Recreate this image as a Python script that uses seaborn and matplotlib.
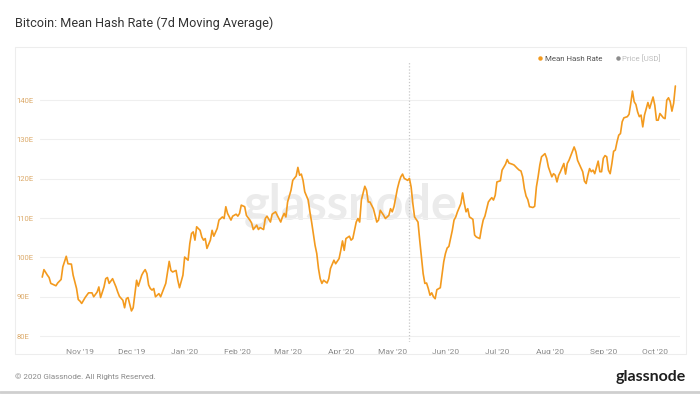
import numpy as np
import pandas as pd
import matplotlib
matplotlib.use("Agg")
import matplotlib.pyplot as plt
import seaborn as sns
import matplotlib.dates as mdates
from matplotlib.patches import Rectangle
from matplotlib.lines import Line2D

# ---------------- data ----------------
title = "Bitcoin: Mean Hash Rate (7d Moving Average)"
start_date = "2019-11-01"
day_offsets = [
    -22, -21, -19, -18, -17, -16, -14, -13, -11, -10, -8, -7, -5, -4, -2, -1,
    0, 1, 3, 4, 5, 7, 8, 10, 11, 12, 14, 15, 16, 17, 19, 21, 22, 23, 25, 26,
    27, 28, 30, 31, 32, 33, 34, 36, 37, 38, 39, 40, 41, 42, 43, 44, 46, 47,
    49, 50, 52, 53, 54, 56, 57, 58, 60, 61, 63, 64, 65, 66, 67, 68, 70, 71,
    72, 73, 74, 76, 77, 78, 80, 81, 83, 84, 85, 86, 88, 89, 91, 92, 93, 94,
    96, 97, 99, 100, 101, 103, 104, 105, 107, 108, 109, 111, 112, 114, 115,
    117, 118, 119, 120, 121, 123, 124, 126, 127, 128, 129, 130, 131, 133,
    134, 135, 136, 137, 138, 139, 140, 141, 142, 144, 145, 146, 148, 149,
    151, 152, 153, 154, 155, 157, 158, 159, 161, 162, 163, 164, 165, 166,
    167, 168, 169, 171, 172, 173, 174, 175, 177, 178, 180, 181, 182, 183,
    185, 186, 187, 188, 189, 191, 192, 193, 194, 195, 197, 198, 199, 200,
    201, 202, 203, 204, 205, 206, 207, 208, 210, 211, 212, 213, 214, 215,
    217, 218, 219, 220, 222, 223, 224, 225, 226, 227, 229, 230, 231, 233,
    234, 235, 236, 238, 239, 240, 241, 242, 243, 245, 246, 248, 249, 250,
    252, 253, 255, 256, 257, 258, 259, 260, 261, 262, 264, 265, 266, 267,
    268, 269, 271, 272, 273, 275, 276, 277, 278, 279, 280, 282, 283, 284,
    285, 287, 288, 289, 290, 292, 293, 294, 295, 296, 297, 298, 299, 300,
    302, 303, 304, 305, 306, 307, 308, 309, 310, 311, 312, 313, 314, 315,
    316, 317, 319, 320, 321, 322, 323, 324, 325, 326, 327, 328, 329, 331,
    332, 334, 335, 336, 337, 338, 340, 341, 342, 343, 344, 345, 346, 347,
]
hash_rate = [
    95.0, 96.9, 95.5, 94.9, 93.4, 93.2, 92.8, 93.5, 94.4, 97.6, 100.3, 98.4,
    98.3, 95.5, 92.1, 89.3,
    88.9, 88.3, 89.8, 90.4, 91.0, 91.0, 90.0, 91.2, 92.5, 89.8, 92.5, 94.6,
    94.9, 93.4, 94.6, 92.5, 91.2, 90.1, 89.1, 87.2,
    89.5, 89.8, 86.4, 87.2, 90.8, 94.2, 92.7, 95.5, 96.3, 96.9, 95.9, 93.0,
    92.1, 91.7, 92.1, 90.0, 90.8, 90.0,
    92.3, 93.4, 99.0, 96.7, 96.3, 96.7, 94.2, 92.3, 95.5, 100.1, 99.3, 103.5,
    106.1, 106.5, 104.4, 107.8, 106.9, 105.2,
    104.4, 104.8, 102.3, 104.4, 106.9, 105.4, 107.4, 109.5, 110.3, 109.9,
    112.9, 111.2, 109.5, 110.5, 111.0, 110.5, 111.2, 113.3,
    112.9, 110.7, 109.5, 108.8, 107.1, 108.2, 107.1, 107.6, 107.1, 109.9,
    110.5, 109.0, 111.0, 111.6, 110.7,
    109.0, 110.3, 111.2, 110.3, 114.1, 117.1, 119.6, 120.7, 122.9, 120.9,
    121.2, 119.6, 116.7, 114.6,
    111.6, 109.0, 106.1, 103.1, 101.0, 97.2, 94.6, 93.4, 94.2, 93.5, 94.6,
    97.2, 99.3, 98.4,
    99.7, 101.8, 104.2, 101.8, 104.8, 105.4, 104.4, 104.8, 109.0, 109.9,
    109.0, 114.6, 116.3, 118.1,
    117.1, 114.1, 114.1, 112.4, 110.7, 109.0, 109.5, 112.0, 110.7, 109.9,
    110.7, 112.4, 111.6, 112.9,
    117.5, 119.2, 120.5, 121.2, 120.1, 119.6, 120.1, 117.9, 113.7, 110.3,
    109.0, 104.4, 100.1, 95.9,
    93.4, 93.5, 92.1, 90.4, 91.0, 90.0, 89.5, 91.8, 92.3, 95.5, 98.9, 101.0,
    102.4, 102.8,
    106.9, 109.5, 110.3, 111.6, 113.7, 116.4, 113.7, 111.6, 112.4, 110.3,
    109.7, 105.7, 105.2, 104.8,
    107.4, 109.5, 110.5, 114.1, 114.7, 115.2, 114.6, 115.8, 119.2, 119.5,
    122.2, 123.7, 124.9, 124.0,
    123.7, 123.5, 122.6, 122.2, 122.0, 120.5, 117.5, 115.6, 114.7, 112.9,
    112.7, 113.0, 117.9, 120.5,
    123.5, 125.6, 126.4, 125.2, 123.0, 120.5, 121.3, 120.9, 119.2, 120.9,
    121.8, 123.9, 121.2, 123.9,
    124.7, 127.0, 128.1, 126.9, 124.7, 122.8, 121.8, 119.4, 118.8, 120.9,
    122.6, 121.8, 122.2, 121.3,
    124.5, 121.8, 121.8, 125.2, 125.9, 125.6, 122.2, 121.3, 123.9, 127.0,
    127.3, 129.4, 131.1, 131.5,
    134.5, 135.5, 135.8, 136.4, 139.2, 142.3, 139.6, 138.9, 137.0, 135.8,
    136.2, 133.2, 136.2, 139.4,
    137.9, 140.8, 138.7, 134.9, 134.9, 136.6, 135.5, 135.3, 140.0, 140.6,
    139.6, 137.2, 139.2, 143.6,
]
month_ticks = ["2019-11-01", "2019-12-01", "2020-01-01", "2020-02-01",
               "2020-03-01", "2020-04-01", "2020-05-01", "2020-06-01",
               "2020-07-01", "2020-08-01", "2020-09-01", "2020-10-01"]
y_ticks = [80, 90, 100, 110, 120, 130, 140]
halving_date = "2020-05-11"
legend_labels = ["Mean Hash Rate", "Price [USD]"]
footer_text = "© 2020 Glassnode. All Rights Reserved."
brand = "glassnode"

# ---------------- build ----------------
start = pd.Timestamp(start_date)
df = pd.DataFrame({
    "date": start + pd.to_timedelta(day_offsets, unit="D"),
    "hash": hash_rate,
})

sns.set_theme(style="white")
plt.rcParams["font.family"] = ["Roboto", "DejaVu Sans"]

W, H = 700, 394
fig = plt.figure(figsize=(W / 100, H / 100), dpi=100)
fig.patch.set_facecolor("white")

def fx(px):
    return px / W

def fy(py):
    return 1 - py / H

# panel border
fig.patches.append(Rectangle((fx(15), fy(354)), fx(686) - fx(15), fy(47) - fy(354),
                             transform=fig.transFigure, fill=False,
                             edgecolor="#ededed", linewidth=0.8, zorder=0))
# bottom separator
fig.add_artist(Line2D([0, 1], [fy(392), fy(392)], transform=fig.transFigure,
                      color="#cfcfcf", linewidth=2.0))

ax = fig.add_axes([fx(40), fy(342), fx(680) - fx(40), fy(62) - fy(342)])
ax.set_facecolor("none")

# watermark
ax.text(0.486, 0.49, brand, transform=ax.transAxes, ha="center", va="center",
        fontsize=35, color="#ebebeb", family=["Lato", "DejaVu Sans"],
        fontweight="bold", zorder=0)

sns.lineplot(data=df, x="date", y="hash", ax=ax, color="#f39a1e",
             linewidth=1.2, zorder=3)

ax.axvline(pd.Timestamp(halving_date), color="#c8c8c8", linestyle=(0, (1, 1.5)),
           linewidth=0.9, zorder=2)

ax.set_xlim(start + pd.Timedelta(days=-23.3), start + pd.Timedelta(days=349.7))
ax.set_ylim(78.5, 149.7)

ax.set_yticks(y_ticks)
ax.set_yticklabels([f"{v}E" for v in y_ticks])
ax.set_xticks(pd.to_datetime(month_ticks))
ax.xaxis.set_major_formatter(mdates.DateFormatter("%b '%y"))

ax.grid(axis="y", color="#efefef", linewidth=0.8)
ax.grid(axis="x", visible=False)
for s in ax.spines.values():
    s.set_visible(False)
ax.tick_params(axis="y", length=0, pad=17, labelsize=5.5, labelcolor="#dcaa6a")
for lab in ax.get_yticklabels():
    lab.set_horizontalalignment("left")
ax.tick_params(axis="x", length=0, pad=5, labelsize=6, labelcolor="#8a8a8a")
ax.set_xlabel("")
ax.set_ylabel("")

# legend
handles = [
    Line2D([], [], linestyle="none", marker="o", markersize=3.2,
           markerfacecolor="#f39a1e", markeredgecolor="none"),
    Line2D([], [], linestyle="none", marker="o", markersize=3.2,
           markerfacecolor="#8c8c8c", markeredgecolor="none"),
]
leg = fig.legend(handles, legend_labels, loc="center right",
                 bbox_to_anchor=(fx(664), fy(58)), ncol=2, frameon=False,
                 fontsize=5.7, handletextpad=0.1, columnspacing=1.4,
                 handlelength=1.0, borderaxespad=0)
leg.get_texts()[0].set_color("#555555")
leg.get_texts()[1].set_color("#bdbdbd")

# title and footer
fig.text(fx(15), fy(23), title, fontsize=9.1, color="#333333", va="center", ha="left")
fig.text(fx(15), fy(377), footer_text, fontsize=5.8, color="#8a8a8a",
         va="center", ha="left")
fig.text(fx(686), fy(377), brand, fontsize=11.5, color="#1e1e1e", va="center",
         ha="right", family=["Lato", "DejaVu Sans"], fontweight="bold")

fig.savefig("out.png", dpi=100, facecolor="white")
